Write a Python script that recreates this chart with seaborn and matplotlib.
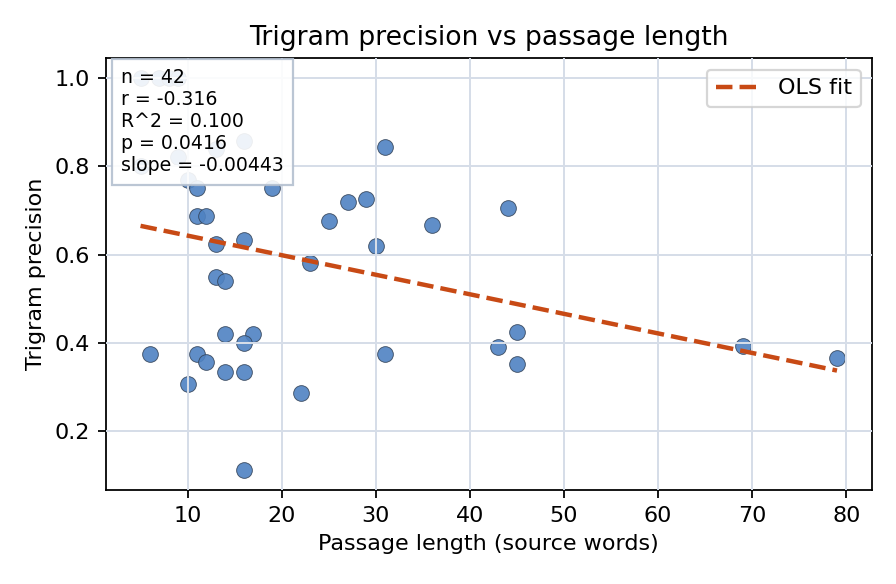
import numpy as np
import pandas as pd
import matplotlib
matplotlib.use("Agg")
import matplotlib.pyplot as plt
import seaborn as sns

# passage length (source words) and trigram precision
words = [6, 10, 11, 11, 12, 13, 16, 19, 16, 13, 14, 14, 17, 16, 11, 12, 14, 16, 10, 22, 16,
         23, 25, 27, 29, 30, 31, 36, 44, 31, 43, 45, 45, 69, 79,
         5, 7, 8, 9, 5, 9, 13]
precision = [0.375, 0.77, 0.75, 0.687, 0.687, 0.625, 0.632, 0.75, 0.857, 0.55, 0.54, 0.42, 0.42,
             0.40, 0.375, 0.357, 0.333, 0.333, 0.307, 0.286, 0.111,
             0.58, 0.676, 0.72, 0.727, 0.62, 0.843, 0.667, 0.705, 0.375, 0.39, 0.425, 0.353,
             0.393, 0.366,
             1.0, 1.0, 1.0, 1.0, 0.80, 0.82, 0.84]
stats_lines = ["n = 42", "r = -0.316", "R^2 = 0.100", "p = 0.0416", "slope = -0.00443"]

df = pd.DataFrame({"words": words, "precision": precision})

# OLS line over the data range
slope, intercept = np.polyfit(df["words"], df["precision"], 1)
xs = np.array([df["words"].min(), df["words"].max()])
fit = pd.DataFrame({"words": xs, "precision": intercept + slope * xs})

fig, ax = plt.subplots(figsize=(5.6, 3.65), dpi=160)
sns.scatterplot(data=df, x="words", y="precision", ax=ax, s=50, color="#4f82c2",
                alpha=0.9, edgecolor="#34445a", linewidth=0.4, zorder=2)
sns.lineplot(data=fit, x="words", y="precision", ax=ax, color="#c84a15",
             linestyle="--", linewidth=2, label="OLS fit", zorder=3)

ax.grid(True, color="#d6dde8", linewidth=0.9)
ax.set_axisbelow(False)
ax.set_title("Trigram precision vs passage length", fontsize=12)
ax.set_xlabel("Passage length (source words)")
ax.set_ylabel("Trigram precision")
ax.text(0.02, 0.977, "\n".join(stats_lines), transform=ax.transAxes, va="top", ha="left",
        fontsize=8.5, zorder=5,
        bbox=dict(boxstyle="square,pad=0.5", facecolor="white", edgecolor="#b4c0d0", alpha=0.9))
ax.legend(loc="upper right")

fig.subplots_adjust(left=0.118, right=0.973, top=0.90, bottom=0.161)
plt.savefig("out.png", dpi=160)
